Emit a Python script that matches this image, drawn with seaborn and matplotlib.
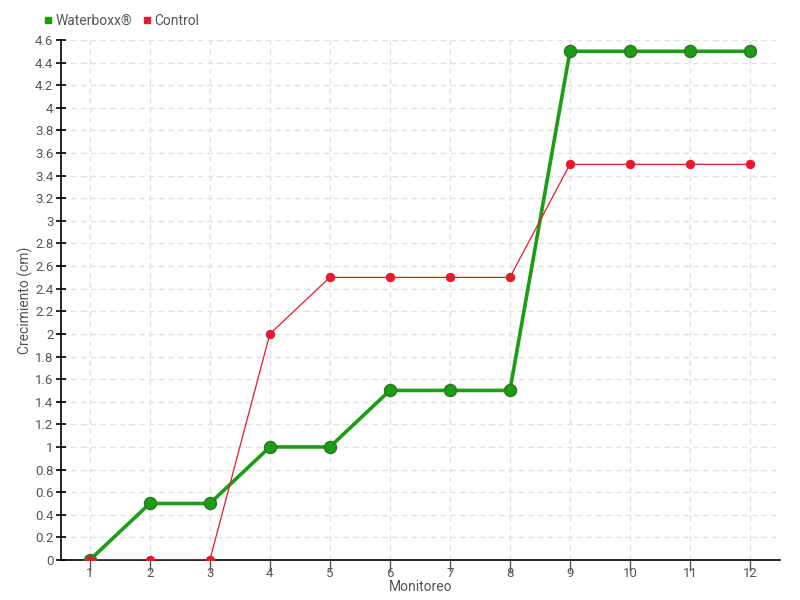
import matplotlib.pyplot as plt
import matplotlib.ticker as mticker
from matplotlib.lines import Line2D
import seaborn as sns
import pandas as pd
import numpy as np

# 数据
monitoreo = [1, 2, 3, 4, 5, 6, 7, 8, 9, 10, 11, 12]
waterboxx = [0, 0.5, 0.5, 1, 1, 1.5, 1.5, 1.5, 4.5, 4.5, 4.5, 4.5]
control = [0, 0, 0, 2, 2.5, 2.5, 2.5, 2.5, 3.5, 3.5, 3.5, 3.5]

sns.set_theme(style="white")
plt.rcParams["font.family"] = ["Liberation Sans Narrow", "Roboto", "DejaVu Sans"]

GREEN = "#1c9e14"
GREEN_EDGE = "#2d7a22"
RED = "#e8192c"
TEXT = "#555555"

df = pd.DataFrame({"Monitoreo": monitoreo, "Waterboxx": waterboxx, "Control": control})

fig = plt.figure(figsize=(8, 6), dpi=100)
ax = fig.add_axes([61 / 800, 40 / 600, 719 / 800, 520 / 600])

sns.lineplot(data=df, x="Monitoreo", y="Waterboxx", ax=ax, color=GREEN, linewidth=2.6,
             marker="o", markersize=8.5, markerfacecolor=GREEN, markeredgecolor=GREEN_EDGE,
             markeredgewidth=1.2, zorder=3)
sns.lineplot(data=df, x="Monitoreo", y="Control", ax=ax, color=RED, linewidth=0.9,
             marker="o", markersize=6, markerfacecolor=RED, markeredgecolor=RED,
             zorder=4)

ax.set_xlim(0.52, 12.5)
ax.set_ylim(0, 4.6)
ax.set_xticks(monitoreo)
ax.set_yticks(np.arange(0, 4.61, 0.2))
ax.yaxis.set_major_formatter(mticker.FuncFormatter(lambda v, p: f"{round(v, 1):g}"))

ax.grid(True, linestyle=(0, (4, 3)), color="#e2e2e2", linewidth=1)
ax.set_axisbelow(True)
for s in ["top", "right"]:
    ax.spines[s].set_visible(False)
for s in ["left", "bottom"]:
    ax.spines[s].set_color("black")
    ax.spines[s].set_linewidth(1.2)

ax.tick_params(axis="y", direction="inout", length=7, width=1.2, color="black",
               labelsize=9.5, labelcolor=TEXT, pad=2, left=True)
ax.tick_params(axis="x", direction="out", length=8, width=1, color="#555555",
               labelsize=9.5, labelcolor=TEXT, pad=-3, bottom=True)

ax.set_xlabel("Monitoreo", fontsize=10, color=TEXT, labelpad=0)
ax.set_ylabel("Crecimiento (cm)", fontsize=10, color=TEXT, labelpad=1)

handles = [
    Line2D([], [], marker="s", linestyle="none", color=GREEN, markersize=5),
    Line2D([], [], marker="s", linestyle="none", color=RED, markersize=5),
]
leg = fig.legend(handles, ["Waterboxx®", "Control"], loc="upper left",
                 bbox_to_anchor=(44 / 800, 1 - 14 / 600), ncol=2, frameon=False,
                 fontsize=10, handlelength=0.6, handletextpad=0.2, columnspacing=0.8,
                 borderaxespad=0, borderpad=0)
for t in leg.get_texts():
    t.set_color(TEXT)

plt.savefig("out.png", dpi=100)
